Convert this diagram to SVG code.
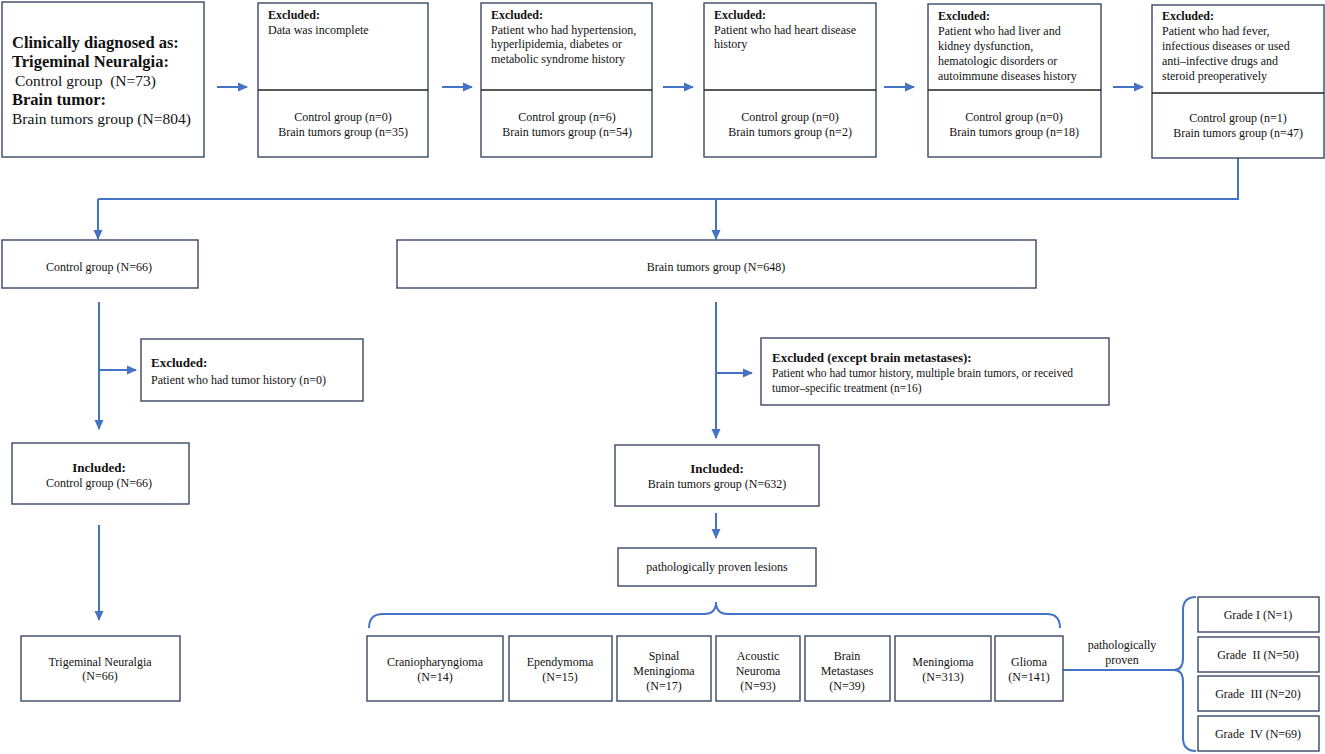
<svg xmlns="http://www.w3.org/2000/svg" width="1325" height="754" viewBox="0 0 1325 754">
<style>
.box{fill:#fff;stroke:#3a4664;stroke-width:1.4}
.div{stroke:#222;stroke-width:1.4}
.ln{fill:none;stroke:#4472C4;stroke-width:2}
text{font-family:"Liberation Serif","Times New Roman",serif;fill:#111;font-size:12px}
.b{font-weight:bold}
.big{font-size:15.5px}
.bigb{font-size:16.5px;font-weight:bold}
.h{font-size:13px;font-weight:bold}
.c{text-anchor:middle}
</style>
<defs>
<marker id="ah" markerUnits="userSpaceOnUse" markerWidth="10" markerHeight="10" viewBox="0 0 10 10" refX="9" refY="5" orient="auto">
<path d="M0,0.5 L10,5 L0,9.5 Z" fill="#4472C4"/>
</marker>
</defs>
<rect width="1325" height="754" fill="#fff"/>

<g id="connectors">
<line class="ln" x1="217" y1="87" x2="247" y2="87" marker-end="url(#ah)"/>
<line class="ln" x1="442" y1="87" x2="472" y2="87" marker-end="url(#ah)"/>
<line class="ln" x1="663" y1="87" x2="693" y2="87" marker-end="url(#ah)"/>
<line class="ln" x1="884" y1="87" x2="914" y2="87" marker-end="url(#ah)"/>
<line class="ln" x1="1113" y1="87" x2="1143" y2="87" marker-end="url(#ah)"/>
<polyline class="ln" points="1238,158 1238,199 98,199"/>
<line class="ln" x1="98" y1="199" x2="98" y2="239" marker-end="url(#ah)"/>
<line class="ln" x1="716" y1="199" x2="716" y2="239" marker-end="url(#ah)"/>
<line class="ln" x1="99" y1="302" x2="99" y2="429" marker-end="url(#ah)"/>
<line class="ln" x1="99" y1="370" x2="136" y2="370" marker-end="url(#ah)"/>
<line class="ln" x1="99" y1="525" x2="99" y2="620" marker-end="url(#ah)"/>
<line class="ln" x1="716" y1="302" x2="716" y2="438" marker-end="url(#ah)"/>
<line class="ln" x1="716" y1="373" x2="752" y2="373" marker-end="url(#ah)"/>
<line class="ln" x1="716" y1="513" x2="716" y2="538" marker-end="url(#ah)"/>
<path class="ln" d="M369,628 Q369,614 383,614 L704,614 Q716,614 716,602 Q716,614 728,614 L1047,614 Q1060,614 1060,628"/>
<line class="ln" x1="1063" y1="670" x2="1174" y2="670"/>
<path class="ln" d="M1196,597 Q1183,597 1183,610 L1183,658 Q1183,670 1174,670 Q1183,670 1183,682 L1183,738 Q1183,751 1196,751"/>
</g>

<g id="n-start">
<rect class="box" x="2" y="2" width="202" height="155"/>
<text x="12" y="48" class="bigb">Clinically diagnosed as:</text>
<text x="12" y="67" class="bigb">Trigeminal Neuralgia:</text>
<text x="15" y="86" class="big" xml:space="preserve">Control group  (N=73)</text>
<text x="12" y="105" class="bigb">Brain tumor:</text>
<text x="12" y="124" class="big">Brain tumors group (N=804)</text>
</g>

<g id="n-ex1">
<rect class="box" x="258" y="3" width="170" height="154"/>
<line class="div" x1="258" y1="90" x2="428" y2="90"/>
<text x="268" y="19" class="b">Excluded:</text>
<text x="268" y="34">Data was incomplete</text>
<text x="343" y="121" class="c">Control group (n=0)</text>
<text x="343" y="136" class="c">Brain tumors group (n=35)</text>
</g>

<g id="n-ex2">
<rect class="box" x="481" y="3" width="171" height="154"/>
<line class="div" x1="481" y1="90" x2="652" y2="90"/>
<text x="491" y="19" class="b">Excluded:</text>
<text x="491" y="34">Patient who had hypertension,</text>
<text x="491" y="48">hyperlipidemia, diabetes or</text>
<text x="491" y="63">metabolic syndrome history</text>
<text x="567" y="121" class="c">Control group (n=6)</text>
<text x="567" y="136" class="c">Brain tumors group (n=54)</text>
</g>

<g id="n-ex3">
<rect class="box" x="704" y="3" width="172" height="154"/>
<line class="div" x1="704" y1="90" x2="876" y2="90"/>
<text x="714" y="19" class="b">Excluded:</text>
<text x="714" y="34">Patient who had heart disease</text>
<text x="714" y="48">history</text>
<text x="790" y="121" class="c">Control group (n=0)</text>
<text x="790" y="136" class="c">Brain tumors group (n=2)</text>
</g>

<g id="n-ex4">
<rect class="box" x="928" y="4" width="173" height="153"/>
<line class="div" x1="928" y1="90" x2="1101" y2="90"/>
<text x="938" y="20" class="b">Excluded:</text>
<text x="938" y="35">Patient who had liver and</text>
<text x="938" y="50">kidney dysfunction,</text>
<text x="938" y="65">hematologic disorders or</text>
<text x="938" y="80">autoimmune diseases history</text>
<text x="1014" y="121" class="c">Control group (n=0)</text>
<text x="1014" y="136" class="c">Brain tumors group (n=18)</text>
</g>

<g id="n-ex5">
<rect class="box" x="1152" y="5" width="172" height="153"/>
<line class="div" x1="1152" y1="93" x2="1324" y2="93"/>
<text x="1162" y="20" class="b">Excluded:</text>
<text x="1162" y="35">Patient who had fever,</text>
<text x="1162" y="50">infectious diseases or used</text>
<text x="1162" y="65">anti–infective drugs and</text>
<text x="1162" y="80">steroid preoperatively</text>
<text x="1238" y="122" class="c">Control group (n=1)</text>
<text x="1238" y="137" class="c">Brain tumors group (n=47)</text>
</g>

<g id="n-control">
<rect class="box" x="2" y="240" width="196" height="48"/>
<text x="99" y="271" class="c">Control group (N=66)</text>
</g>

<g id="n-brain">
<rect class="box" x="397" y="240" width="639" height="48"/>
<text x="716" y="271" class="c">Brain tumors group (N=648)</text>
</g>

<g id="n-ex-control">
<rect class="box" x="141" y="339" width="222" height="62"/>
<text x="151" y="367" class="h">Excluded:</text>
<text x="151" y="384">Patient who had tumor history (n=0)</text>
</g>

<g id="n-ex-brain">
<rect class="box" x="761" y="338" width="348" height="67"/>
<text x="772" y="362" class="h">Excluded (except brain metastases):</text>
<text x="772" y="377" style="font-size:11.5px">Patient who had tumor history, multiple brain tumors, or received</text>
<text x="772" y="392" style="font-size:11.5px">tumor–specific treatment (n=16)</text>
</g>

<g id="n-inc-control">
<rect class="box" x="12" y="443" width="177" height="61"/>
<text x="99" y="472" class="h c">Included:</text>
<text x="99" y="487" class="c">Control group (N=66)</text>
</g>

<g id="n-inc-brain">
<rect class="box" x="615" y="445" width="204" height="61"/>
<text x="717" y="473" class="h c">Included:</text>
<text x="717" y="488" class="c">Brain tumors group (N=632)</text>
</g>

<g id="n-path">
<rect class="box" x="618" y="548" width="198" height="38"/>
<text x="717" y="571" class="c">pathologically proven lesions</text>
</g>

<g id="n-tn">
<rect class="box" x="21" y="636" width="159" height="65"/>
<text x="100" y="666" class="c">Trigeminal Neuralgia</text>
<text x="100" y="680" class="c">(N=66)</text>
</g>

<g id="n-cranio">
<rect class="box" x="367" y="636" width="136" height="65"/>
<text x="435" y="666" class="c">Craniopharyngioma</text>
<text x="435" y="681" class="c">(N=14)</text>
</g>
<g id="n-epend">
<rect class="box" x="509" y="636" width="103" height="65"/>
<text x="560" y="666" class="c">Ependymoma</text>
<text x="560" y="681" class="c">(N=15)</text>
</g>
<g id="n-spinal">
<rect class="box" x="617" y="636" width="94" height="65"/>
<text x="664" y="660" class="c">Spinal</text>
<text x="664" y="675" class="c">Meningioma</text>
<text x="664" y="690" class="c">(N=17)</text>
</g>
<g id="n-acoustic">
<rect class="box" x="716" y="636" width="84" height="65"/>
<text x="758" y="660" class="c">Acoustic</text>
<text x="758" y="675" class="c">Neuroma</text>
<text x="758" y="690" class="c">(N=93)</text>
</g>
<g id="n-meta">
<rect class="box" x="805" y="636" width="85" height="65"/>
<text x="847" y="660" class="c">Brain</text>
<text x="847" y="675" class="c">Metastases</text>
<text x="847" y="690" class="c">(N=39)</text>
</g>
<g id="n-mening">
<rect class="box" x="895" y="636" width="96" height="65"/>
<text x="943" y="666" class="c">Meningioma</text>
<text x="943" y="681" class="c">(N=313)</text>
</g>
<g id="n-glioma">
<rect class="box" x="995" y="636" width="68" height="65"/>
<text x="1029" y="666" class="c">Glioma</text>
<text x="1029" y="681" class="c">(N=141)</text>
</g>

<g id="lbl-proven">
<text x="1122" y="649" class="c">pathologically</text>
<text x="1122" y="664" class="c">proven</text>
</g>

<g id="n-g1">
<rect class="box" x="1198" y="597" width="121" height="35"/>
<text x="1258" y="619" class="c">Grade I (N=1)</text>
</g>
<g id="n-g2">
<rect class="box" x="1198" y="637" width="121" height="35"/>
<text x="1258" y="659" class="c" xml:space="preserve">Grade  II (N=50)</text>
</g>
<g id="n-g3">
<rect class="box" x="1198" y="676" width="121" height="35"/>
<text x="1258" y="698" class="c" xml:space="preserve">Grade  III (N=20)</text>
</g>
<g id="n-g4">
<rect class="box" x="1198" y="716" width="121" height="35"/>
<text x="1258" y="738" class="c" xml:space="preserve">Grade  IV (N=69)</text>
</g>
</svg>
